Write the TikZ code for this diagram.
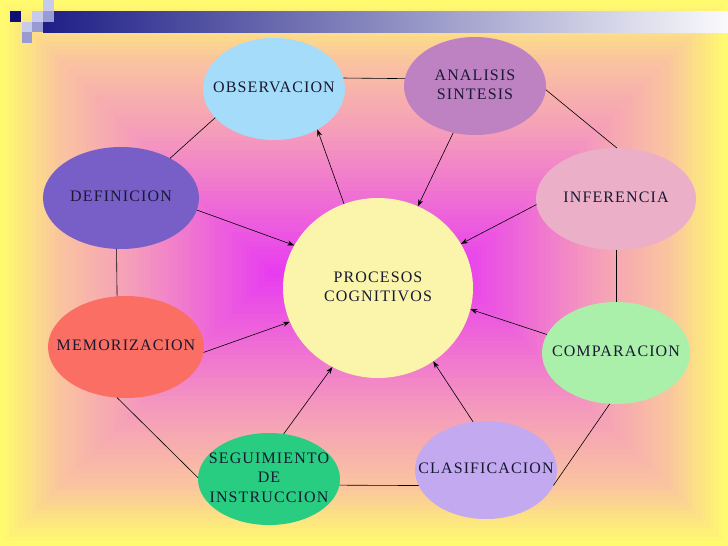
\documentclass[tikz,border=0pt]{standalone}
\usepackage{fontspec}
\setmainfont{Liberation Serif}[LetterSpace=7]
\usetikzlibrary{shapes.geometric}
\usetikzlibrary{arrows.meta}

% 颜色
\definecolor{bgyel}{RGB}{255,250,110}
\definecolor{bgpea}{RGB}{250,195,160}
\definecolor{bgpnk}{RGB}{245,158,186}
\definecolor{bgmag}{RGB}{232,60,240}
\definecolor{barL}{RGB}{30,30,135}
\definecolor{barM}{RGB}{100,105,180}
\definecolor{barR}{RGB}{250,250,252}
\definecolor{sqD}{RGB}{15,15,120}
\definecolor{sqM}{RGB}{155,155,212}
\definecolor{sqL}{RGB}{200,202,236}
\definecolor{cobs}{RGB}{165,220,250}
\definecolor{cana}{RGB}{190,130,195}
\definecolor{cdef}{RGB}{120,95,200}
\definecolor{cmem}{RGB}{250,110,100}
\definecolor{cinf}{RGB}{235,175,200}
\definecolor{ccom}{RGB}{170,240,170}
\definecolor{cseg}{RGB}{40,205,130}
\definecolor{ccla}{RGB}{195,170,240}
\definecolor{cpro}{RGB}{250,245,170}
\definecolor{ink}{RGB}{25,25,50}

\newcommand{\lbl}[1]{\makebox[0pt]{\begin{tabular}{@{}c@{}}#1\end{tabular}}}

\tikzset{
    mybubble/.style={
        ellipse,       % 椭圆
        inner sep=0,   % 大小只由 minimum 决定
        outer sep=0,
        text=ink,
        font=\fontsize{16}{19.5}\selectfont
    },
    mylink/.style={black, line width=0.6pt},
    myarrow/.style={mylink, -{Stealth[length=7pt,width=5pt]}}
}

\begin{document}
\begin{tikzpicture}[x=1pt, y=-1pt]

\useasboundingbox (0,0) rectangle (728,546);

% 背景
\foreach \i in {0,...,59}{
    \pgfmathsetmacro{\d}{\i*273/60}
    \ifnum\i<13
        \pgfmathtruncatemacro{\p}{100*\i/13}
        \colorlet{bgc}{bgpea!\p!bgyel}
    \else\ifnum\i<28
        \pgfmathtruncatemacro{\p}{100*(\i-13)/15}
        \colorlet{bgc}{bgpnk!\p!bgpea}
    \else
        \pgfmathtruncatemacro{\p}{100*(\i-28)/31}
        \colorlet{bgc}{bgmag!\p!bgpnk}
    \fi\fi
    \fill[bgc] (\d,\d) rectangle (728-\d,546-\d);
}

% 顶部条
\shade[left color=barL, middle color=barM, right color=barR] (43,11) rectangle (728,32);
\fill[sqD] (10,11) rectangle (21,22);
\fill[sqL] (32,11) rectangle (43,22);
\fill[sqL] (43,0) rectangle (54,11);
\fill[sqM] (43,11) rectangle (54,22);
\fill[sqL] (22,22) rectangle (32,32);
\fill[sqM] (32,22) rectangle (43,32);
\fill[sqM] (22,32) rectangle (32,43);

% 椭圆
\node[mybubble, fill=cpro, minimum width=190pt, minimum height=180pt] (pro) at (378,288) {\lbl{PROCESOS\\COGNITIVOS}};
\node[mybubble, fill=cobs, minimum width=142pt, minimum height=102pt] (obs) at (274,89) {\lbl{OBSERVACION}};
\node[mybubble, fill=cana, minimum width=142pt, minimum height=98pt] (ana) at (475,86) {\lbl{ANALISIS\\SINTESIS}};
\node[mybubble, fill=cdef, minimum width=156pt, minimum height=102pt] (def) at (121,198) {\lbl{DEFINICION}};
\node[mybubble, fill=cmem, minimum width=156pt, minimum height=102pt] (mem) at (126,347) {\lbl{MEMORIZACION}};
\node[mybubble, fill=cinf, minimum width=160pt, minimum height=102pt] (inf) at (616,199) {\lbl{INFERENCIA}};
\node[mybubble, fill=ccom, minimum width=148pt, minimum height=102pt] (com) at (616,353) {\lbl{COMPARACION}};
\node[mybubble, fill=cseg, minimum width=142pt, minimum height=92pt] (seg) at (269,479) {\lbl{SEGUIMIENTO\\DE\\INSTRUCCION}};
\node[mybubble, fill=ccla, minimum width=142pt, minimum height=98pt] (cla) at (486,470) {\lbl{CLASIFICACION}};

% 外圈连线
\draw[mylink] (obs.9) -- (ana.174);
\draw[mylink] (obs.206) -- (def.39);
\draw[mylink] (def.265) -- (mem.100);
\draw[mylink] (mem.260) -- (seg.179);
\draw[mylink] (seg.355) -- (cla.193);
\draw[mylink] (cla.347) -- (com.263);
\draw[mylink] (com.90) -- (inf.270);
\draw[mylink] (inf.89) -- (ana.357);

% 箭头
\draw[myarrow] (pro.112) -- (obs.317);
\draw[myarrow] (ana.245) -- (pro.64);
\draw[myarrow] (def.351) -- (pro.153);
\draw[myarrow] (mem.356) -- (pro.201);
\draw[myarrow] (inf.184) -- (pro.28);
\draw[myarrow] (com.165) -- (pro.347);
\draw[myarrow] (seg.72) -- (pro.240);
\draw[myarrow] (cla.105) -- (pro.307);

\end{tikzpicture}
\end{document}
